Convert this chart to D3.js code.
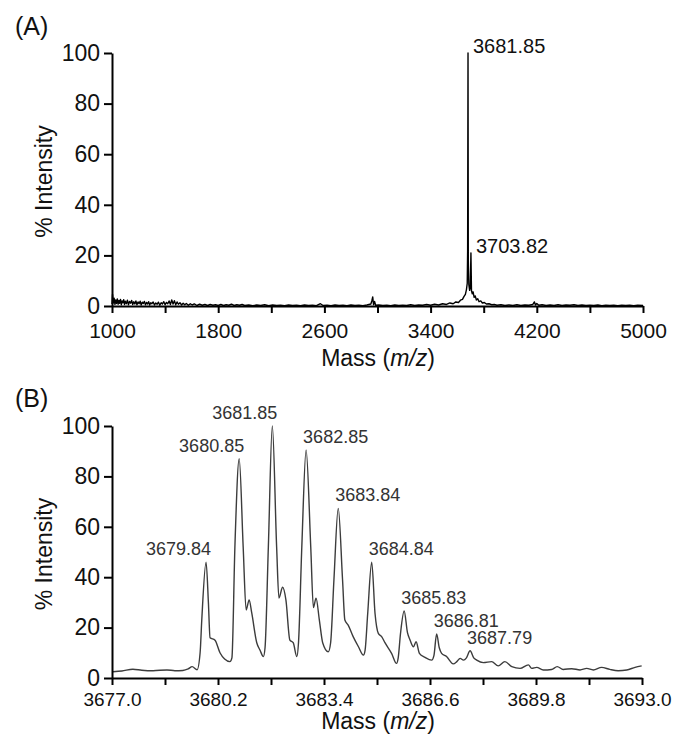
<!DOCTYPE html>
<html><head><meta charset="utf-8">
<script src="https://cdn.jsdelivr.net/npm/d3@7"></script>
<style>
body{margin:0;background:#fff}
svg{display:block}
text{font-family:"Liberation Sans",Arial,Helvetica,sans-serif}
</style>
</head><body>
<svg id="c" width="679" height="751"></svg>
<script>
// ---------- Panel A data (mass, % intensity) ----------
const specA = [
[1000,0.8],[1004,4.6],[1010,1.2],[1016,3.1],[1022,0.6],[1028,2.4],[1034,1.0],[1040,2.8],[1046,0.7],[1052,2.2],
[1058,1.1],[1064,2.6],[1070,0.5],[1076,2.0],[1082,1.3],[1088,2.5],[1094,0.6],[1100,1.9],[1108,0.9],[1116,2.3],
[1124,0.5],[1132,1.8],[1140,1.1],[1148,2.2],[1156,0.6],[1164,1.7],[1172,0.8],[1180,2.0],[1188,0.5],[1196,1.6],
[1204,0.9],[1212,1.9],[1220,0.4],[1228,1.5],[1236,1.0],[1244,1.8],[1252,0.5],[1260,1.4],[1268,0.8],[1276,1.7],
[1284,0.4],[1292,1.3],[1300,0.9],[1310,1.6],[1320,0.4],[1330,1.2],[1340,0.7],[1350,1.5],[1360,0.3],[1370,1.3],
[1380,0.8],[1390,1.7],[1400,0.5],[1410,1.4],[1420,0.9],[1430,2.0],[1440,0.6],[1450,2.4],[1460,0.8],[1470,2.1],
[1480,0.5],[1490,1.6],[1500,0.7],[1512,1.3],[1524,0.4],[1536,1.1],[1548,0.5],[1560,1.0],[1575,0.3],[1590,0.9],
[1605,0.4],[1620,0.8],[1640,0.2],[1660,0.7],[1680,0.3],[1700,0.6],[1720,0.2],[1740,0.6],[1760,0.3],[1780,0.5],
[1800,0.2],[1820,0.6],[1840,0.2],[1860,0.5],[1880,0.3],[1900,0.7],[1920,0.2],[1940,0.5],[1960,0.3],[1980,0.6],
[2000,0.2],[2030,0.4],[2060,0.1],[2090,0.4],[2120,0.2],[2150,0.5],[2180,0.1],[2210,0.4],[2240,0.2],[2270,0.3],
[2300,0.1],[2330,0.4],[2360,0.2],[2390,0.3],[2420,0.1],[2450,0.4],[2480,0.2],[2510,0.3],[2540,0.1],[2570,0.9],
[2590,0.2],[2620,0.3],[2650,0.1],[2680,0.4],[2710,0.2],[2740,0.3],[2770,0.1],[2800,0.4],[2830,0.2],[2860,0.3],
[2890,0.1],[2920,0.4],[2950,0.8],[2958,2.2],[2964,3.6],[2970,0.5],[2978,1.8],[2986,0.3],[3010,0.4],[3040,0.2],
[3070,0.3],[3100,0.1],[3130,0.4],[3160,0.2],[3190,0.3],[3220,0.2],[3250,0.5],[3280,0.2],[3310,0.4],[3340,0.3],
[3370,0.6],[3400,0.3],[3430,0.7],[3460,0.4],[3490,0.9],[3520,0.6],[3545,1.2],[3570,0.9],[3590,1.6],[3610,1.4],
[3625,2.3],[3640,2.6],[3652,3.8],[3662,4.6],[3670,6.5],[3676,9.0],[3679,22],[3681.85,100],[3684,18],[3688,8.5],
[3694,6.2],[3699,7.5],[3703.82,21],[3708,6.0],[3714,4.8],[3720,5.6],[3728,3.4],[3736,4.0],[3745,2.4],[3755,2.9],
[3765,1.7],[3778,2.0],[3790,1.2],[3805,1.4],[3820,0.8],[3840,0.9],[3860,0.5],[3880,0.6],[3900,0.3],[3930,0.5],
[3960,0.2],[3990,0.4],[4020,0.2],[4050,0.5],[4080,0.2],[4110,0.4],[4140,0.3],[4170,0.6],[4182,1.6],[4190,0.4],
[4200,1.0],[4215,0.3],[4240,0.5],[4270,0.2],[4300,0.4],[4330,0.2],[4360,0.5],[4390,0.2],[4420,0.4],[4450,0.3],
[4480,0.5],[4510,0.2],[4540,0.4],[4570,0.2],[4600,0.3],[4630,0.2],[4660,0.4],[4690,0.1],[4720,0.3],[4750,0.2],
[4780,0.3],[4810,0.1],[4840,0.3],[4870,0.2],[4900,0.3],[4930,0.1],[4960,0.3],[5000,0.2]
];
const peaksA = [
  {m:3681.85, i:100, label:"3681.85"},
  {m:3703.82, i:21,  label:"3703.82"}
];
const xTicksA = [1000,1400,1800,2200,2600,3000,3400,3800,4200,4600,5000];
const xTickLabelsA = ["1000","","1800","","2600","","3400","","4200","","5000"];
const yTicks = [0,20,40,60,80,100];
const yTickLabels = ["0","20","40","60","80","100"];

// ---------- Panel B data (mass, % intensity) ----------
const specB = [
[3677.03,2.5],[3677.30,2.8],[3677.63,3.5],[3677.90,3.1],[3678.24,2.9],[3678.66,3.2],[3678.90,2.9],[3679.14,3.0],
[3679.30,3.6],[3679.42,4.5],[3679.57,3.3],[3679.66,10],[3679.71,23],[3679.84,46],[3679.91,30],[3679.96,16],
[3680.11,15],[3680.26,10],[3680.40,7.5],[3680.56,6.5],[3680.62,8],[3680.71,52],[3680.84,87],[3680.96,52],
[3681.05,27],[3681.14,31],[3681.22,25.7],[3681.37,14],[3681.47,11],[3681.57,8.5],[3681.62,12],[3681.72,52],
[3681.84,100],[3681.97,52],[3682.04,31.7],[3682.15,36],[3682.25,31],[3682.37,15],[3682.47,14],[3682.58,8.5],
[3682.63,14],[3682.73,52],[3682.86,90.5],[3683.00,52],[3683.08,28],[3683.16,31.7],[3683.26,23],[3683.36,14],
[3683.53,10.4],[3683.60,14],[3683.70,39],[3683.83,67.3],[3683.96,39],[3684.03,23],[3684.13,21],[3684.28,16.4],
[3684.44,12.4],[3684.59,9.1],[3684.64,11],[3684.72,25.7],[3684.84,46],[3684.94,25.7],[3685.04,17.7],[3685.14,16.4],
[3685.24,14],[3685.44,9.8],[3685.59,5.8],[3685.64,8],[3685.71,17.7],[3685.82,26.6],[3685.92,18],[3686.00,15],
[3686.10,12.4],[3686.18,14.4],[3686.28,9.8],[3686.45,8.2],[3686.65,7.1],[3686.72,9],[3686.80,17.5],[3686.88,12],
[3686.95,9.8],[3687.10,8.5],[3687.30,5.6],[3687.41,6.5],[3687.51,7.8],[3687.61,7.1],[3687.70,8],[3687.81,10.8],
[3687.92,8],[3688.01,7.1],[3688.21,6.1],[3688.46,6.5],[3688.66,4.8],[3688.86,6.5],[3689.07,4.5],[3689.32,3.8],
[3689.57,5.2],[3689.67,3.8],[3689.82,4.2],[3690.02,3.2],[3690.27,3.4],[3690.44,4.5],[3690.62,3.4],[3690.88,3.7],
[3691.13,3.2],[3691.33,3.8],[3691.53,3.2],[3691.78,4.2],[3692.03,3.4],[3692.28,2.9],[3692.54,3.2],[3692.79,4.2],
[3692.99,4.8]
];
const peaksB = [
  {m:3679.84, i:46,   label:"3679.84"},
  {m:3680.84, i:87,   label:"3680.85"},
  {m:3681.84, i:100,  label:"3681.85"},
  {m:3682.86, i:90.5, label:"3682.85"},
  {m:3683.83, i:67.3, label:"3683.84"},
  {m:3684.84, i:46,   label:"3684.84"},
  {m:3685.82, i:26.6, label:"3685.83"},
  {m:3686.80, i:17.5, label:"3686.81"},
  {m:3687.81, i:10.8, label:"3687.79"}
];
const labelAnchorB = ["end","end","end","start","start","start","start","start","start"];
const xTicksB = [3677.0,3678.6,3680.2,3681.8,3683.4,3685.0,3686.6,3688.2,3689.8,3691.4,3693.0];
const xTickLabelsB = ["3677.0","","3680.2","","3683.4","","3686.6","","3689.8","","3693.0"];

// ---------- Drawing ----------
const svg = d3.select("#c");

function styleAxis(g){
  g.select(".domain").attr("stroke","#000").attr("stroke-width",2);
  g.selectAll(".tick line").attr("stroke","#000").attr("stroke-width",2);
  g.selectAll(".tick text").attr("fill","#111").attr("font-family","'Liberation Sans',Arial,sans-serif");
}

function panel(o){
  const x = d3.scaleLinear().domain(o.xDomain).range([o.left,o.right]);
  const y = d3.scaleLinear().domain([0,100]).range([o.bottom,o.top]);
  const g = svg.append("g");

  const line = d3.line().x(d=>x(d[0])).y(d=>y(d[1])).curve(o.curve);
  g.append("path").datum(o.data)
    .attr("fill","none").attr("stroke",o.lineColor).attr("stroke-width",o.lineWidth)
    .attr("stroke-linejoin","round").attr("d",line);

  const xa = g.append("g").attr("transform",`translate(0,${o.bottom})`)
    .call(d3.axisBottom(x).tickValues(o.xTicks).tickFormat((d,i)=>o.xLabels[i])
      .tickSizeInner(7).tickSizeOuter(0).tickPadding(o.xPad));
  styleAxis(xa);
  xa.selectAll(".tick text").attr("font-size",o.xFont);

  const ya = g.append("g").attr("transform",`translate(${o.left},0)`)
    .call(d3.axisLeft(y).tickValues(yTicks).tickFormat((d,i)=>yTickLabels[i])
      .tickSizeInner(8).tickSizeOuter(0).tickPadding(4));
  styleAxis(ya);
  ya.selectAll(".tick text").attr("font-size",23);

  // peak labels
  g.selectAll("text.pk").data(o.peaks).join("text").attr("class","pk")
    .attr("x",(d,i)=>x(d.m) + (o.anchors[i]==="end" ? o.endDx : o.startDx))
    .attr("y",d=>y(d.i) + o.labelDy)
    .attr("text-anchor",(d,i)=>o.anchors[i])
    .attr("font-size",o.peakFont).attr("fill",o.peakColor)
    .text(d=>d.label);

  // axis titles
  const t = g.append("text").attr("x",378).attr("y",o.titleY)
    .attr("text-anchor","middle").attr("font-size",23).attr("fill","#111");
  t.append("tspan").text("Mass (");
  t.append("tspan").attr("font-style","italic").text("m/z");
  t.append("tspan").text(")");

  g.append("text").attr("transform",`translate(52,${(o.top+o.bottom)/2 + 2}) rotate(-90)`)
    .attr("text-anchor","middle").attr("font-size",23).attr("fill","#111")
    .text("% Intensity");

  g.append("text").attr("x",15).attr("y",o.tagY).attr("font-size",25).attr("fill","#111").text(o.tag);
}

panel({
  data:specA, peaks:peaksA, anchors:["start","start"],
  xDomain:[1000,5000], left:112, right:643, top:53, bottom:306,
  xTicks:xTicksA, xLabels:xTickLabelsA, xPad:10, xFont:21,
  curve:d3.curveLinear, lineColor:"#000", lineWidth:1.4,
  startDx:5, endDx:5, labelDy:0, peakFont:20, peakColor:"#111",
  titleY:366, tag:"(A)", tagY:35
});

panel({
  data:specB, peaks:peaksB, anchors:labelAnchorB,
  xDomain:[3677.0,3693.0], left:112, right:642, top:426, bottom:678,
  xTicks:xTicksB, xLabels:xTickLabelsB, xPad:8, xFont:19,
  curve:d3.curveMonotoneX, lineColor:"#3c3c3c", lineWidth:1.4,
  startDx:-3, endDx:5, labelDy:-7, peakFont:18, peakColor:"#333",
  titleY:729, tag:"(B)", tagY:407
});
</script>
</body></html>
